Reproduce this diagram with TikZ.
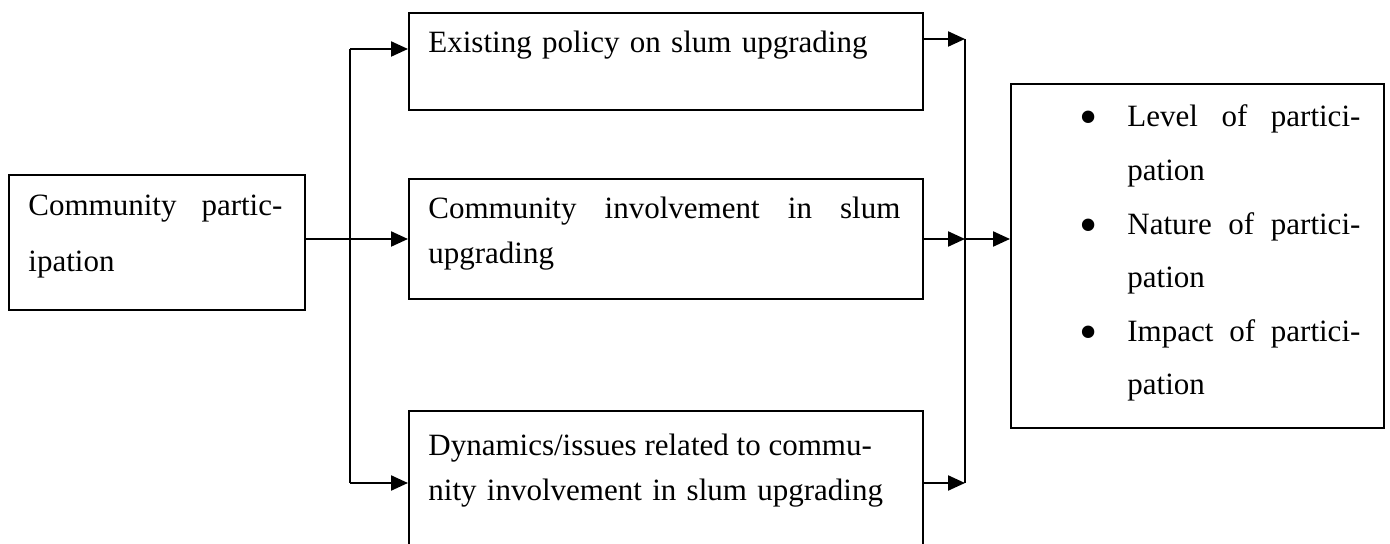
\documentclass[tikz,border=0pt]{standalone}
\usepackage{fontspec}
\setmainfont{Liberation Serif}
\usetikzlibrary{arrows.meta}
% a line stretched to a given width (justified)
\newcommand\jline[2]{\leavevmode\hbox to #1{\spaceskip=0.25em plus 1fil\relax #2}}
% a line at its natural width
\newcommand\nline[1]{\leavevmode\mbox{#1}}
% hanging bullet in front of a list item
\newcommand\bulletitem{\leavevmode\llap{\makebox[24pt][l]{\raisebox{-4pt}{\fontsize{26}{26}\selectfont\textbullet}}}}
\begin{document}
\begin{tikzpicture}[x=0.5pt,y=-0.5pt,
  frame/.style={draw, line width=1pt, inner sep=0pt, anchor=north west},
  copy/.style={anchor=base west, inner sep=0pt, align=left},
  link/.style={line width=1.1pt},
  arr/.style={link, -{Triangle[length=8.5pt,width=7.5pt]}}]
\clip (0,0) rectangle (1390,544);

% boxes
\node[frame, minimum width=148pt, minimum height=67.5pt] (cp) at (8,174) {};
\node[frame, minimum width=257pt, minimum height=48.5pt] (b1) at (408,12) {};
\node[frame, minimum width=257pt, minimum height=60pt] (b2) at (408,178) {};
\node[frame, minimum width=257pt, minimum height=90pt] (b3) at (408,410) {};
\node[frame, minimum width=186.5pt, minimum height=172pt] (res) at (1010,83) {};

% texts
\node[copy, text width=127pt, font=\fontsize{15.5}{28}\selectfont] (cpt) at (28,216)
  {\jline{127pt}{Community partic-}\\\nline{ipation}};
\node[copy, text width=236pt, font=\fontsize{15.5}{22.5}\selectfont] (b1t) at (428,53)
  {\nline{Existing policy on slum upgrading}};
\node[copy, text width=236pt, font=\fontsize{15.5}{22.5}\selectfont] (b2t) at (428,219)
  {\jline{236pt}{Community involvement in slum}\\\nline{upgrading}};
\node[copy, text width=219.5pt, font=\fontsize{15.5}{22.5}\selectfont] (b3t) at (428,455)
  {\jline{219.5pt}{Dynamics/issues related to commu-}\\\nline{nity involvement in slum upgrading}};
\node[copy, text width=116.5pt, font=\fontsize{15.5}{26.8}\selectfont] (rest) at (1127,127)
  {\bulletitem\jline{116.5pt}{Level of partici-}\\\nline{pation}\\
   \bulletitem\jline{116.5pt}{Nature of partici-}\\\nline{pation}\\
   \bulletitem\jline{116.5pt}{Impact of partici-}\\\nline{pation}};

% left distribution
\coordinate (lt) at (350,49);
\coordinate (lb) at (350,483);
\draw[link] (lt) -- (lb);
\draw[arr] (lt) -- (lt -| b1.west);
\draw[arr] (lb) -- (lb -| b3.west);
\draw[arr] (cp.east |- b2.west) -- (b2.west);

% right collection
\coordinate (rt) at (965,39);
\coordinate (rb) at (965,483);
\draw[link] (rt) -- (rb);
\draw[arr] (b1.east |- rt) -- (rt);
\draw[arr] (b2.east) -- (b2.east -| rt);
\draw[arr] (b3.east |- rb) -- (rb);
\draw[arr] (b2.east -| rt) -- (b2.east -| res.west);
\end{tikzpicture}
\end{document}
